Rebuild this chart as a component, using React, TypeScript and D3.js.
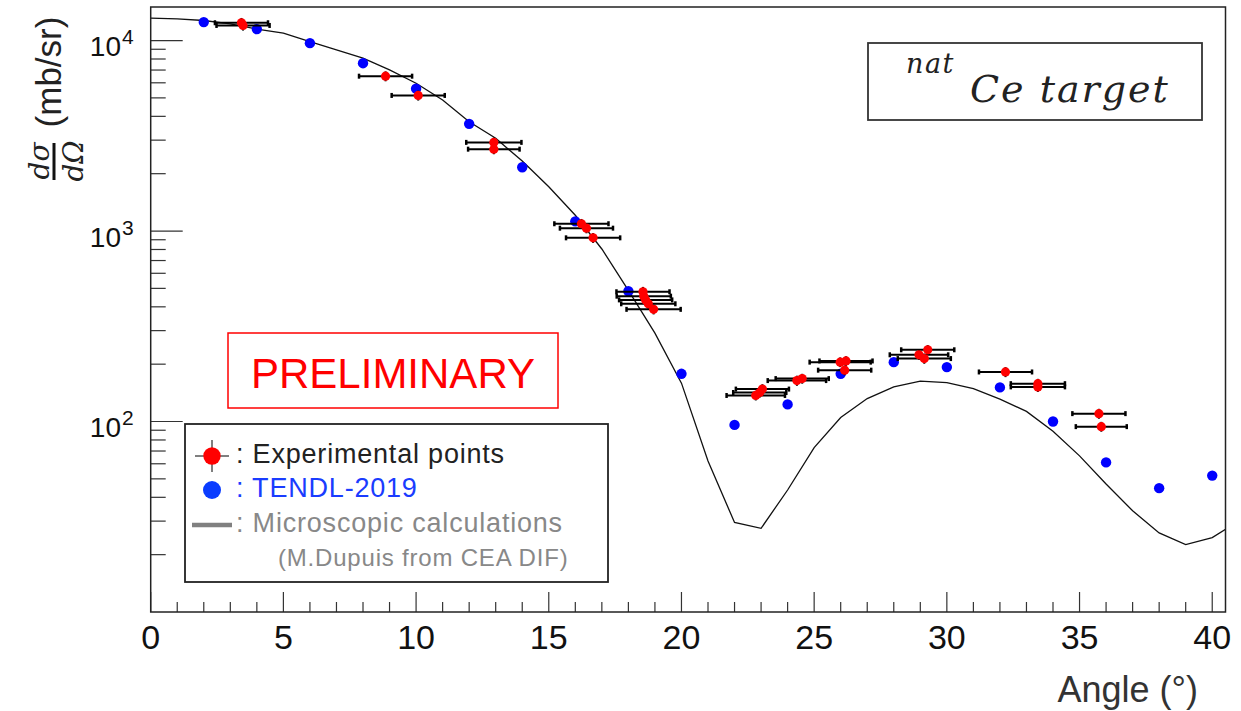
import React from 'react';
import * as d3 from 'd3';

// microscopic calculation (M.Dupuis), sampled every degree
const curveAngles = [0, 1, 2, 3, 4, 5, 6, 7, 8, 9, 10, 11, 12, 13, 14, 15, 16, 17, 18, 19, 20,
  21, 22, 23, 24, 25, 26, 27, 28, 29, 30, 31, 32, 33, 34, 35, 36, 37, 38, 39, 40, 41];
const curveValues = [13100, 13000, 12740, 12240, 11480, 10940, 9880, 8930, 8080, 7010, 5970,
  4870, 3750, 3070, 2330, 1708, 1210, 805, 488, 291, 159, 62, 29.5, 27.5, 43.7, 73, 105, 132,
  152, 163, 160, 149, 131, 113, 89, 66, 47, 34, 26, 22.6, 24.6, 30];

// TENDL-2019
const tendlAngles = [2, 4, 6, 8, 10, 12, 14, 16, 18, 20, 22, 24, 26, 28, 30, 32, 34, 36, 38, 40];
const tendlValues = [12500, 11480, 9690, 7605, 5590, 3654, 2162, 1124, 483, 178, 96, 123, 178,
  205, 193, 151, 100, 61, 44.7, 52];

// experimental points
const expAngles = [3.42, 3.48, 8.85, 10.08, 12.93, 12.93, 16.23, 16.42, 16.67, 18.55, 18.58,
  18.65, 18.75, 18.95, 22.8, 22.95, 23.05, 24.35, 24.55, 25.98, 26.2, 26.15, 29.28, 28.95,
  29.15, 32.21, 33.43, 33.43, 35.73, 35.82];
const expValues = [12400, 12000, 6500, 5150, 2920, 2690, 1092, 1035, 921, 480, 455, 435, 415,
  388, 137, 142, 148, 164, 168, 205, 208, 186, 238, 224, 214, 182, 158, 152, 110, 94];
const expAngleErr = [1.0, 1.0, 1.0, 1.0, 1.04, 0.97, 1.02, 1.0, 1.02, 1.0, 1.02, 1.0, 1.02,
  1.02, 1.1, 1.0, 1.0, 1.1, 1.0, 1.15, 1.0, 1.0, 1.0, 1.1, 1.0, 1.0, 1.02, 1.02, 1.0, 0.96];
const expValueErr = [740, 720, 390, 310, 175, 160, 65, 62, 55, 29, 27, 26, 25, 23, 8, 8.5, 9,
  10, 10, 12, 12, 11, 14, 13, 13, 11, 9.5, 9, 6.6, 5.6];

const xMajorTicks = [0, 5, 10, 15, 20, 25, 30, 35, 40];
const yDecades = [100, 1000, 10000];
const yDecadeExp = ['2', '3', '4'];

const W = 1241;
const H = 711;
const plot = { left: 150.7, right: 1225.5, top: 7, bottom: 612 };

const sans = "'Liberation Sans', Arial, Helvetica, sans-serif";
const serif = "'DejaVu Serif', serif";

const App = () => {
  const x = d3.scaleLinear().domain([0, 40.5]).range([plot.left, plot.right]);
  const y = d3.scaleLog().domain([10, 15000]).range([plot.bottom, plot.top]);

  const curve = curveAngles.map((a, i) => [a, curveValues[i]] as [number, number]);
  const line = d3.line<[number, number]>().x(d => x(d[0])).y(d => y(d[1]));

  // minor log ticks 2..9 x 10^n inside the domain
  const yMinor: number[] = [];
  [10, 100, 1000, 10000].forEach(dec => {
    for (let m = 2; m <= 9; m++) {
      const v = dec * m;
      if (v < 15000) yMinor.push(v);
    }
  });
  const xMinor = d3.range(0, 41, 1);

  return (
    <svg width={W} height={H} style={{ position: 'absolute', left: 0, top: 0, background: '#fff' }}>
      <defs>
        <clipPath id="plotClip">
          <rect x={plot.left} y={plot.top} width={plot.right - plot.left} height={plot.bottom - plot.top} />
        </clipPath>
      </defs>
      <rect x={0} y={0} width={W} height={H} fill="#fff" />

      {/* ticks */}
      <g stroke="#333" strokeWidth={1.2}>
        {xMinor.map(t => (
          <line key={'xm' + t} x1={x(t)} x2={x(t)} y1={plot.bottom} y2={plot.bottom - (t % 5 === 0 ? 20 : 10)} />
        ))}
        {yMinor.map(v => (
          <line key={'ym' + v} x1={plot.left} x2={plot.left + 15} y1={y(v)} y2={y(v)} />
        ))}
        {yDecades.map(v => (
          <line key={'yM' + v} x1={plot.left} x2={plot.left + 32} y1={y(v)} y2={y(v)} />
        ))}
      </g>

      {/* tick labels */}
      <g fontFamily={sans} fill="#111">
        {xMajorTicks.map(t => (
          <text key={'xl' + t} x={x(t)} y={649} fontSize={34} textAnchor="middle">{t}</text>
        ))}
        {yDecades.map((v, i) => (
          <g key={'yl' + v}>
            <text x={121} y={y(v) + 15.5} fontSize={28} textAnchor="end">10</text>
            <text x={122} y={y(v) + 3.5} fontSize={21} textAnchor="start">{yDecadeExp[i]}</text>
          </g>
        ))}
      </g>

      {/* axis titles */}
      <text x={1198} y={702} fontFamily={sans} fontSize={36} fill="#333" textAnchor="end">Angle (°)</text>
      <g fill="#222">
        <text transform="translate(60.5,72) rotate(-90)" fontFamily={sans} fontSize={35} textAnchor="middle">(mb/sr)</text>
        <text transform="translate(49,161) rotate(-90)" fontFamily={serif} fontStyle="italic" fontSize={28} textAnchor="middle">dσ</text>
        <text transform="translate(83,161) rotate(-90)" fontFamily={serif} fontStyle="italic" fontSize={28} textAnchor="middle">dΩ</text>
        <line x1={54} x2={54} y1={143} y2={180} stroke="#111" strokeWidth={3} />
      </g>

      {/* calculation curve */}
      <path d={line(curve) || ''} fill="none" stroke="#111" strokeWidth={1.3} clipPath="url(#plotClip)" />

      {/* TENDL points */}
      <g fill="#0000ff">
        {tendlAngles.map((a, i) => (
          <circle key={'t' + i} cx={x(a)} cy={y(tendlValues[i])} r={5.2} />
        ))}
      </g>

      {/* experimental error bars */}
      <g stroke="#000" strokeWidth={2}>
        {expAngles.map((a, i) => {
          const cy = y(expValues[i]);
          const x0 = x(a - expAngleErr[i]);
          const x1 = x(a + expAngleErr[i]);
          return (
            <g key={'e' + i}>
              <line x1={x0} x2={x1} y1={cy} y2={cy} />
              <line x1={x0} x2={x0} y1={cy - 2.5} y2={cy + 2.5} strokeWidth={2.5} />
              <line x1={x1} x2={x1} y1={cy - 2.5} y2={cy + 2.5} strokeWidth={2.5} />
              <line x1={x(a)} x2={x(a)} y1={y(expValues[i] + expValueErr[i])} y2={y(expValues[i] - expValueErr[i])} />
            </g>
          );
        })}
      </g>
      <g fill="#ff0000">
        {expAngles.map((a, i) => (
          <circle key={'p' + i} cx={x(a)} cy={y(expValues[i])} r={4.6} />
        ))}
      </g>

      {/* frame */}
      <rect x={plot.left} y={plot.top} width={plot.right - plot.left} height={plot.bottom - plot.top}
        fill="none" stroke="#222" strokeWidth={1.5} />

      {/* target box */}
      <rect x={868} y={43} width={334} height={77} fill="#fff" stroke="#333" strokeWidth={1.8} />
      <text x={906} y={72.5} fontFamily={serif} fontStyle="italic" fontSize={27} letterSpacing={1.5} fill="#222">nat</text>
      <text x={970} y={101.5} fontFamily={serif} fontStyle="italic" fontSize={38} letterSpacing={2} fill="#222">Ce target</text>

      {/* preliminary */}
      <rect x={228} y={333} width={330} height={75} fill="#fff" stroke="#ff0000" strokeWidth={1.5} />
      <text x={393} y={388} fontFamily={sans} fontSize={42} fill="#ff0000" textAnchor="middle">PRELIMINARY</text>

      {/* legend */}
      <rect x={185} y={424} width={423} height={158} fill="#fff" stroke="#222" strokeWidth={1.8} />
      <g stroke="#000" strokeWidth={1}>
        <line x1={195} x2={229} y1={456} y2={456} />
        <line x1={212} x2={212} y1={440} y2={472} />
      </g>
      <circle cx={212} cy={456} r={8.7} fill="#ff0000" />
      <circle cx={212} cy={490} r={9} fill="#0a3cff" />
      <line x1={192} x2={232} y1={525} y2={525} stroke="#808080" strokeWidth={4.5} />
      <g fontFamily={sans} fontSize={27} letterSpacing={0.8}>
        <text x={236} y={463} fill="#222">: Experimental points</text>
        <text x={236} y={497} fill="#1a3cff">: TENDL-2019</text>
        <text x={236} y={531.5} fill="#888">: Microscopic calculations</text>
        <text x={278} y={565.5} fill="#888" fontSize={24}>(M.Dupuis from CEA DIF)</text>
      </g>
    </svg>
  );
};

export default App;
